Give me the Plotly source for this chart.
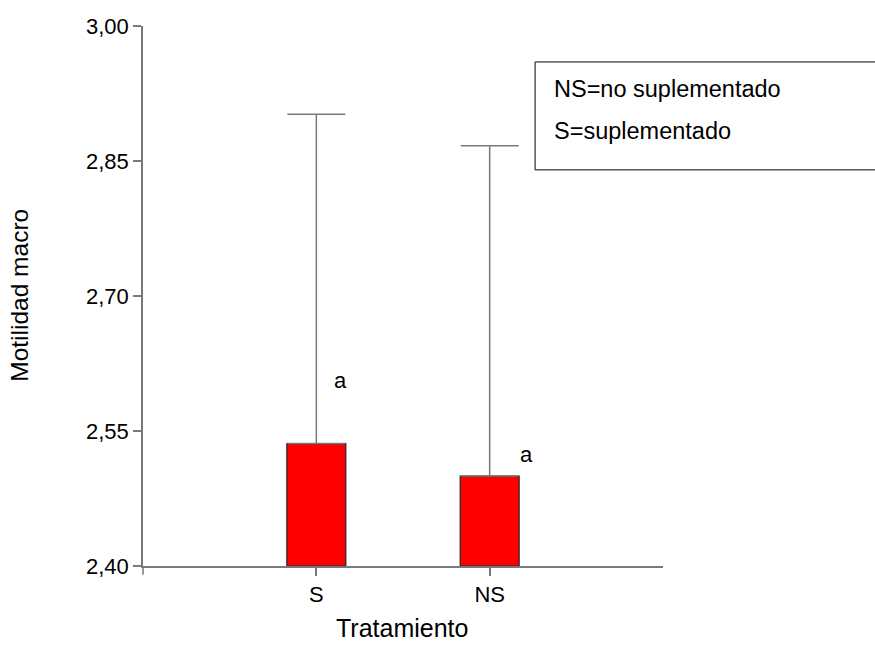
import plotly.graph_objects as go

# Treatment means with upper error (standard deviation) for macro motility
tratamientos = ["S", "NS"]
medias = [2.536, 2.500]
error_sup = [0.366, 0.367]
letras = ["a", "a"]
letra_x = [0.137, 1.212]
letra_y = [2.606, 2.524]

y_ticks = [2.40, 2.55, 2.70, 2.85, 3.00]
y_tick_text = ["2,40", "2,55", "2,70", "2,85", "3,00"]

leyenda = ["NS=no suplementado", "S=suplementado"]
titulo_x = "Tratamiento"
titulo_y = "Motilidad macro"

FONT = "Liberation Sans, Arial, sans-serif"
AXIS_COLOR = "#7a7a7a"

fig = go.Figure()
fig.add_trace(go.Bar(
    x=list(range(len(tratamientos))),
    y=[m - 2.40 for m in medias],
    base=2.40,
    width=0.34,
    marker=dict(color="#ff0000", line=dict(color="#222222", width=1.2)),
    error_y=dict(type="data", symmetric=False, array=error_sup,
                 arrayminus=[0] * len(medias),
                 color=AXIS_COLOR, thickness=1.5, width=29),
    hoverinfo="skip",
))

for lx, ly, txt in zip(letra_x, letra_y, letras):
    fig.add_annotation(x=lx, y=ly, xref="x", yref="y", text=txt,
                       showarrow=False, font=dict(family=FONT, size=22, color="#000"))

# Key box explaining the abbreviations
fig.add_shape(type="rect", xref="paper", yref="paper",
              x0=0.754, x1=1.42, y0=0.7336, y1=0.9334,
              line=dict(color="#000", width=1), fillcolor="rgba(0,0,0,0)")
for ty, txt in zip([0.8834, 0.8057], leyenda):
    fig.add_annotation(x=0.786, y=ty, xref="paper", yref="paper", text=txt,
                       xanchor="left", yanchor="middle", showarrow=False,
                       font=dict(family=FONT, size=23.5, color="#000"))

# Axis titles
fig.add_annotation(x=0.498, y=-0.1452, xref="paper", yref="paper", text=titulo_x,
                   xanchor="center", yanchor="bottom", showarrow=False,
                   font=dict(family=FONT, size=25, color="#000"))
fig.add_annotation(x=-0.2365, y=0.5005, xref="paper", yref="paper", text=titulo_y,
                   textangle=-90, xanchor="center", yanchor="middle", showarrow=False,
                   font=dict(family=FONT, size=24.5, color="#000"))

# Small extension of the vertical axis below the baseline
fig.add_shape(type="line", xref="paper", yref="paper",
              x0=0, x1=0, y0=0, y1=-0.016,
              line=dict(color=AXIS_COLOR, width=1.5))

fig.update_layout(
    width=875, height=645,
    margin=dict(l=143, r=212, t=26, b=78.5),
    paper_bgcolor="white", plot_bgcolor="white",
    showlegend=False,
    font=dict(family=FONT, color="#000"),
    xaxis=dict(
        range=[-1, 2], automargin=False,
        tickmode="array", tickvals=list(range(len(tratamientos))),
        ticktext=tratamientos,
        showline=True, linecolor=AXIS_COLOR, linewidth=1.5,
        ticks="outside", ticklen=8, tickwidth=1.5, tickcolor=AXIS_COLOR,
        showgrid=False, zeroline=False,
        tickfont=dict(family=FONT, size=22, color="#000"),
    ),
    yaxis=dict(
        range=[2.40, 3.00], automargin=False,
        tickmode="array", tickvals=y_ticks, ticktext=y_tick_text,
        showline=True, linecolor=AXIS_COLOR, linewidth=1.5,
        ticks="outside", ticklen=8, tickwidth=1.5, tickcolor=AXIS_COLOR,
        showgrid=False, zeroline=False,
        tickfont=dict(family=FONT, size=22, color="#000"),
    ),
)

fig.write_html("out.html")
